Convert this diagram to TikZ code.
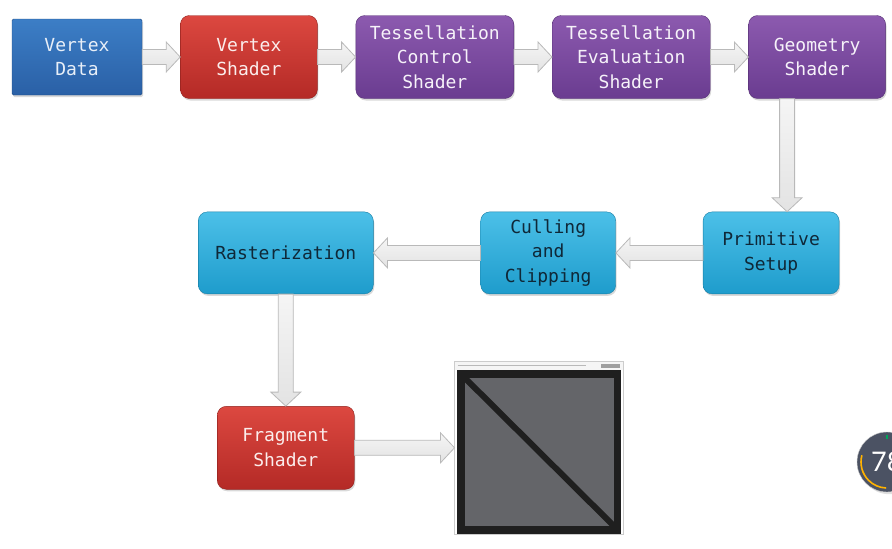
\documentclass[tikz,border=0pt]{standalone}
\usepackage{fontspec}
\setmonofont{DejaVu Sans Mono}
\newfontfamily\gaugefont{Lato}
\usetikzlibrary{positioning,calc,shadows}

\definecolor{vdtop}{HTML}{3C7EC6}
\definecolor{vdbot}{HTML}{2A60A6}
\definecolor{redtop}{HTML}{DC4840}
\definecolor{redbot}{HTML}{B42A26}
\definecolor{purtop}{HTML}{8C5AAF}
\definecolor{purbot}{HTML}{6A3C90}
\definecolor{cyantop}{HTML}{4CC0E8}
\definecolor{cyanbot}{HTML}{1E9CCC}
\definecolor{cyantext}{HTML}{0F2838}
\definecolor{screengray}{HTML}{646569}
\definecolor{gaugebg}{HTML}{4B5263}

\tikzset{
  stage/.style={rounded corners=9pt,minimum height=83pt,align=center,inner sep=4pt,
    font=\ttfamily\fontsize{18}{24.5}\selectfont,
    drop shadow={opacity=.3,shadow xshift=1pt,shadow yshift=-2pt}},
  vdata/.style={stage,rounded corners=1.5pt,minimum width=130pt,minimum height=76pt,
    top color=vdtop,bottom color=vdbot,draw=vdbot!80!black,text=white!88!vdtop},
  redstage/.style={stage,top color=redtop,bottom color=redbot,draw=redbot!80!black,text=white!90!redtop},
  purplestage/.style={stage,top color=purtop,bottom color=purbot,draw=purbot!80!black,text=white!92!purtop},
  cyanstage/.style={stage,minimum height=82pt,top color=cyantop,bottom color=cyanbot,draw=cyanbot!80!black,text=cyantext},
  screen/.style={minimum width=168pt,minimum height=172pt,inner sep=0pt},
  fatarrow/.style={top color=gray!8,bottom color=gray!22,draw=gray!55,line width=.8pt,line join=miter},
  gauge/.style={circle,minimum size=60pt,fill=gaugebg,draw=gray!40,drop shadow={opacity=.25}}
}

% fat block arrow from #1 to #2
\newcommand\fatarrow[2]{%
  \coordinate (fa-s) at (#1);
  \coordinate (fa-e) at (#2);
  \coordinate (fa-h) at ($(fa-e)!14pt!(fa-s)$);
  \draw[fatarrow] ($(fa-s)!7.5pt!90:(fa-e)$) -- ($(fa-h)!7.5pt!-90:(fa-s)$)
    -- ($(fa-h)!15pt!-90:(fa-s)$) -- (fa-e) -- ($(fa-h)!15pt!90:(fa-s)$)
    -- ($(fa-h)!7.5pt!90:(fa-s)$) -- ($(fa-s)!7.5pt!-90:(fa-e)$) -- cycle;}

\begin{document}
\begin{tikzpicture}[x=1pt,y=1pt,node distance=38pt]
\useasboundingbox (0,0) rectangle (892,-549);

\node[vdata](vd) at (77,-57){Vertex\\Data};
\node[redstage,minimum width=137pt](vs)[right=of vd]{Vertex\\Shader};
\node[purplestage,minimum width=158pt](tcs)[right=of vs]{Tessellation\\Control\\Shader};
\node[purplestage,minimum width=158pt](tes)[right=of tcs]{Tessellation\\Evaluation\\Shader};
\node[purplestage,minimum width=137pt](gs)[right=of tes]{Geometry\\Shader};
\node[cyanstage,minimum width=136pt](ps)[below=113pt of gs,xshift=-46pt]{Primitive\\Setup};
\node[cyanstage,minimum width=135pt](cc)[left=87pt of ps]{Culling\\and\\Clipping};
\node[cyanstage,minimum width=175pt](ra)[left=107pt of cc]{Rasterization};
\node[redstage,minimum width=137pt](fs)[below=112pt of ra]{Fragment\\Shader};
\node[screen](out)[right=100pt of fs]{};

% rendered window
\fill[gray!8] (out.north west) rectangle ([yshift=-8pt]out.north east);
\draw[gray!55,line width=1.3pt] ([xshift=3pt,yshift=-4pt]out.north west) -- ++(128,0);
\fill[gray!75] ([xshift=-22pt,yshift=-2pt]out.north east) rectangle ([xshift=-3pt,yshift=-6.5pt]out.north east);
\fill[black!88] ([xshift=2pt,yshift=-8pt]out.north west) rectangle ([xshift=-2pt]out.south east);
\coordinate (in1) at ([xshift=10pt,yshift=-16pt]out.north west);
\coordinate (in2) at ([xshift=-9pt,yshift=8pt]out.south east);
\fill[screengray] (in1) rectangle (in2);
\draw[black!88,line width=6pt] (in1) -- (in2);
\draw[gray!40,line width=.4pt] (out.north west) rectangle (out.south east);

\coordinate (gd) at ([xshift=-30pt]gs.south);

\fatarrow{vd.east}{vs.west}
\fatarrow{vs.east}{tcs.west}
\fatarrow{tcs.east}{tes.west}
\fatarrow{tes.east}{gs.west}
\fatarrow{gd}{gd |- ps.north}
\fatarrow{ps.west}{cc.east}
\fatarrow{cc.west}{ra.east}
\fatarrow{ra.south}{fs.north}
\fatarrow{fs.east}{out.west}

% gauge badge, cut by the edge
\begin{scope}
\clip (0,0) rectangle (892,-549);
\node[gauge](g) at (887,-462){};
\draw[orange!60!yellow,line width=1.6pt] ([shift={(165:26pt)}]g.center) arc[start angle=165,end angle=268,radius=26pt];
\draw[teal!70!green,line width=1.6pt] ([shift={(90:27pt)}]g.center) -- ([shift={(90:23pt)}]g.center);
\node[anchor=west,inner sep=0pt,text=white,font=\gaugefont\fontsize{27}{27}\selectfont](gv) at (871,-462){78};
\end{scope}

\end{tikzpicture}
\end{document}
